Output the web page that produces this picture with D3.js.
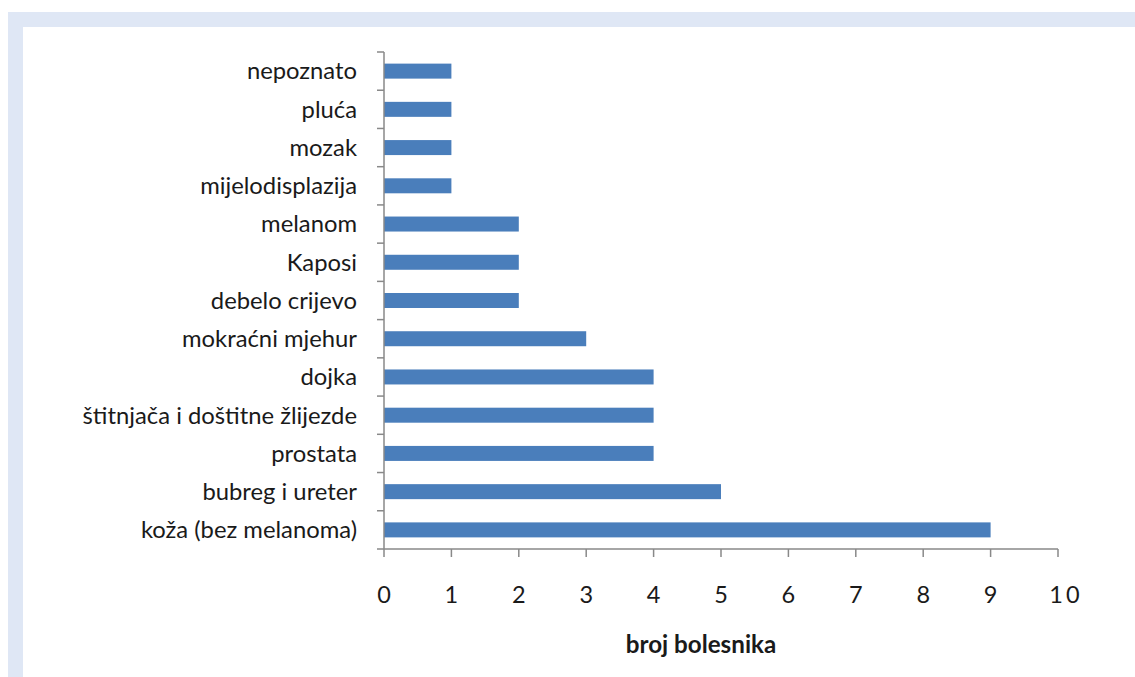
<!DOCTYPE html>
<html><head><meta charset="utf-8">
<script src="https://cdn.jsdelivr.net/npm/d3@7"></script>
<style>body{margin:0;background:#fff}svg{display:block}</style>
</head><body>
<svg id="c" width="1135" height="677"></svg>
<script>
const categories = ["nepoznato","pluća","mozak","mijelodisplazija","melanom","Kaposi","debelo crijevo","mokraćni mjehur","dojka","štitnjača i doštitne žlijezde","prostata","bubreg i ureter","koža (bez melanoma)"];
const values = [1,1,1,1,2,2,2,3,4,4,4,5,9];
const xTicks = [0,1,2,3,4,5,6,7,8,9,10];
const xTitle = "broj bolesnika";

(function(){
const svg = d3.select("#c");
const FONT = "Lato, 'Open Sans', sans-serif";
svg.append("rect").attr("x",8).attr("y",12).attr("width",1127).attr("height",15).attr("fill","#dfe7f5");
svg.append("rect").attr("x",8).attr("y",12).attr("width",15).attr("height",665).attr("fill","#dfe7f5");

const pL=384, pR=1058, pT=52, pB=549;
const x = d3.scaleLinear().domain([0,10]).range([pL,pR]);
const yb = d3.scaleBand().domain(categories).range([pT,pB]);

svg.selectAll("rect.bar").data(categories).join("rect").attr("class","bar")
  .attr("x",x(0)).attr("y",d=>yb(d)+yb.bandwidth()/2-7.5)
  .attr("width",(d,i)=>x(values[i])-x(0)).attr("height",15).attr("fill","#4a7ebb");

const ax = "#898989";
svg.append("line").attr("x1",pL).attr("x2",pL).attr("y1",pT).attr("y2",pB).attr("stroke",ax).attr("stroke-width",1.5);
const yTickPos = categories.map(c=>yb(c)).concat([pB]);
svg.selectAll("line.yt").data(yTickPos).join("line").attr("class","yt")
  .attr("x1",pL-7).attr("x2",pL).attr("y1",d=>d).attr("y2",d=>d).attr("stroke",ax).attr("stroke-width",1.5);
svg.selectAll("text.yl").data(categories).join("text").attr("class","yl")
  .attr("x",357).attr("y",d=>yb(d)+yb.bandwidth()/2).attr("dy","0.35em")
  .attr("text-anchor","end").attr("font-family",FONT).attr("font-size",23.8).attr("fill","#1a1a1a").text(d=>d);
svg.append("line").attr("x1",pL).attr("x2",pR).attr("y1",pB).attr("y2",pB).attr("stroke",ax).attr("stroke-width",1.5);
svg.selectAll("line.xt").data(xTicks).join("line").attr("class","xt")
  .attr("x1",d=>x(d)).attr("x2",d=>x(d)).attr("y1",pB).attr("y2",pB+8).attr("stroke",ax).attr("stroke-width",1.5);
svg.selectAll("text.xl").data(xTicks).join("text").attr("class","xl")
  .attr("x",d=>x(d)+(d===10?8:0)).attr("y",603).attr("text-anchor","middle")
  .attr("font-family",FONT).attr("font-size",23.5).attr("fill","#1a1a1a")
  .attr("letter-spacing",d=>d===10?"3px":"0").text(d=>d);
svg.append("text").attr("x",701).attr("y",653).attr("text-anchor","middle")
  .attr("font-family",FONT).attr("font-weight","bold").attr("font-size",24.2).attr("fill","#1a1a1a").text(xTitle);
})();
</script>
</body></html>
